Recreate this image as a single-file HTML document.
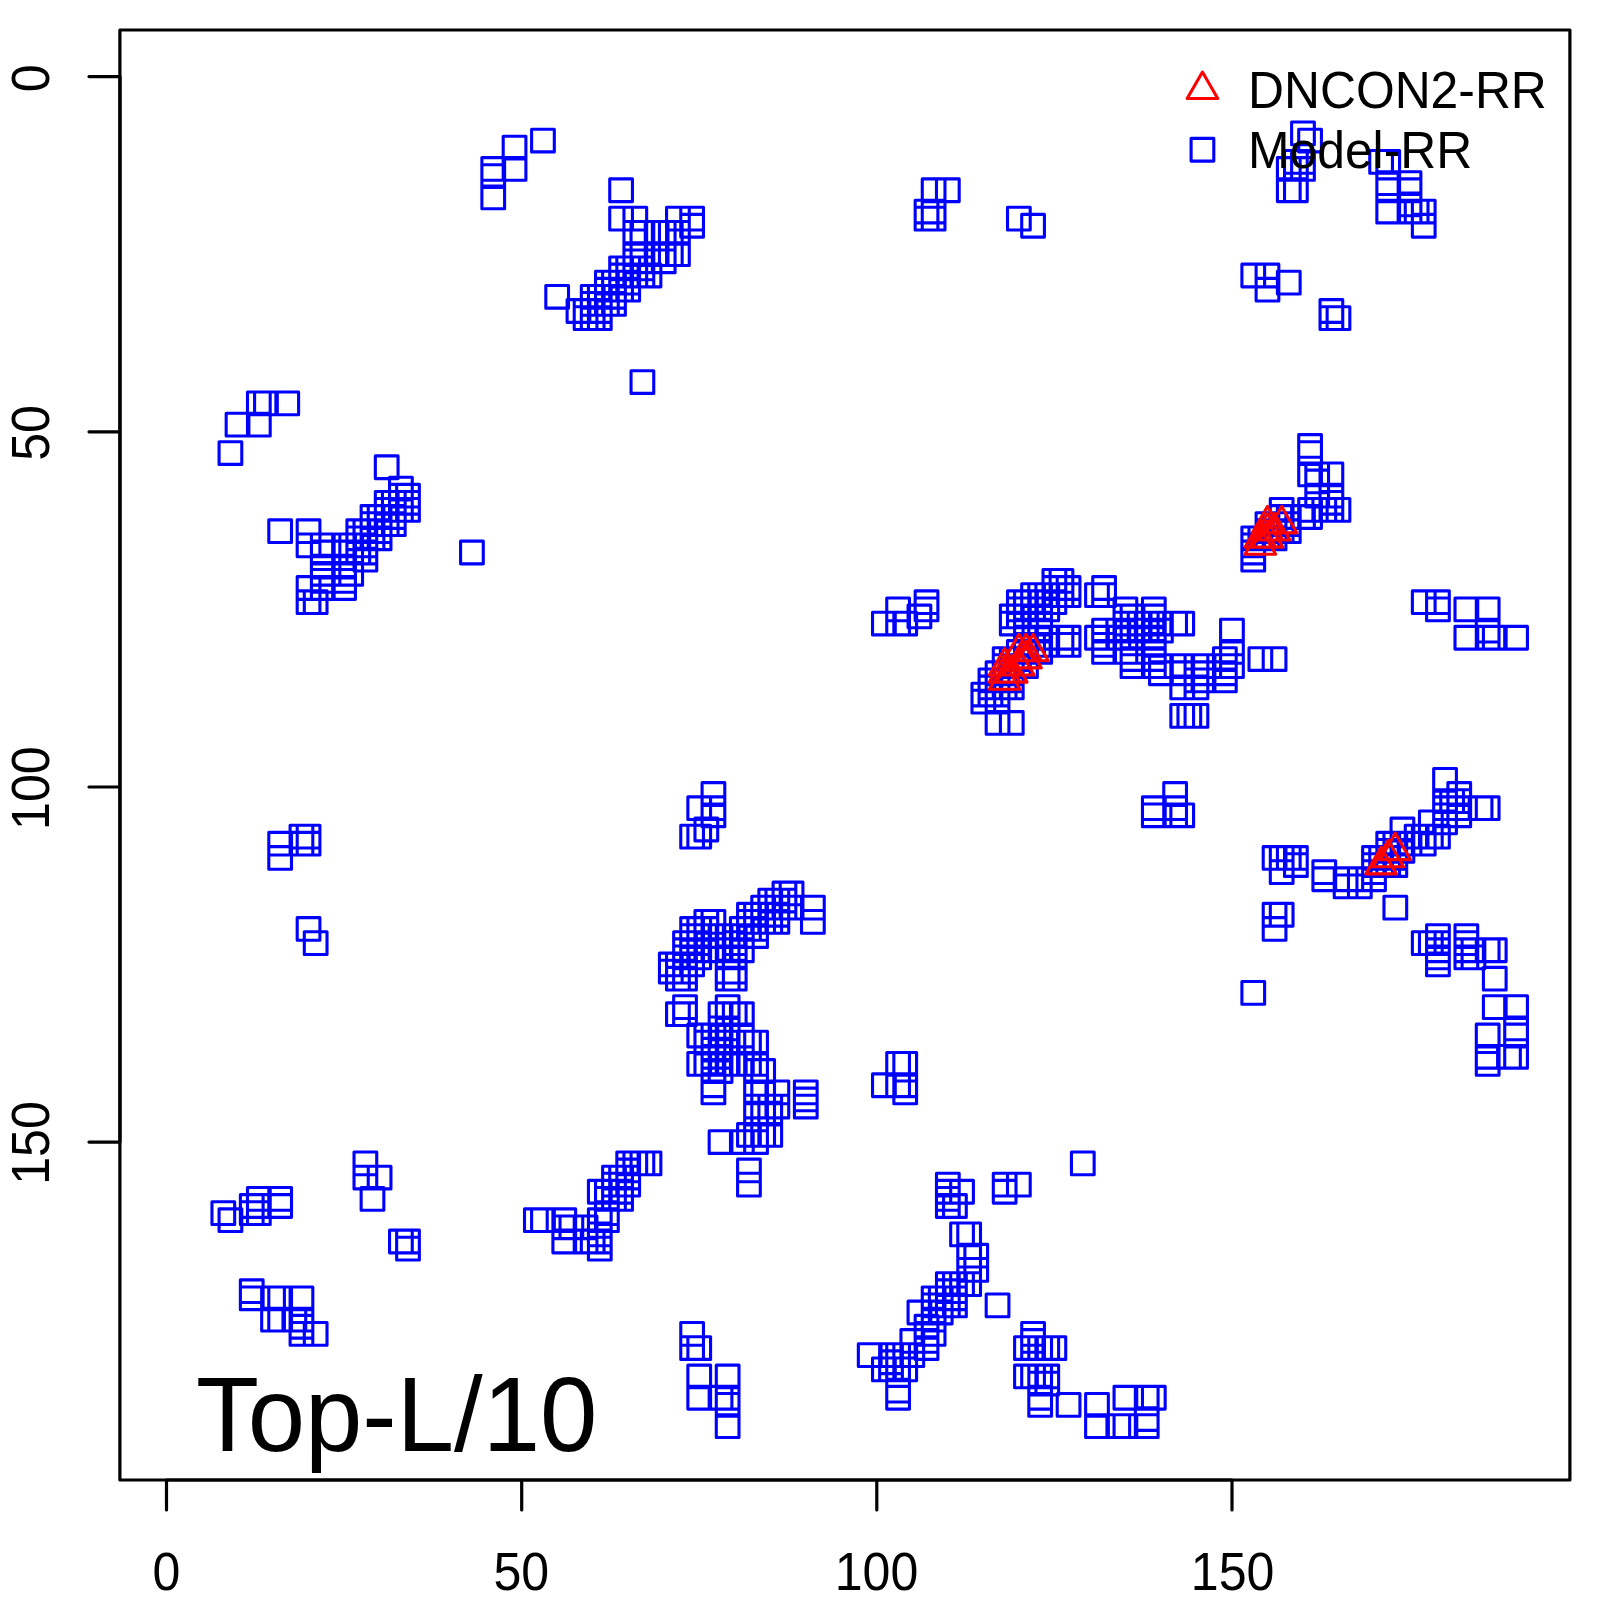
<!DOCTYPE html>
<html><head><meta charset="utf-8"><style>
html,body{margin:0;padding:0;background:#fff;}
body{width:1600px;height:1600px;overflow:hidden;position:relative;}
svg{position:absolute;left:0;top:0;}
text{font-family:"Liberation Sans",sans-serif;}
</style></head><body>
<svg width="1600" height="1600" viewBox="0 0 1600 1600" xmlns="http://www.w3.org/2000/svg">
<rect x="0" y="0" width="1600" height="1600" fill="#fff"/>
<path d="M211.97 1201.73h22.70v22.70h-22.70zM219.08 441.71h22.70v22.70h-22.70zM219.08 1208.83h22.70v22.70h-22.70zM226.18 413.30h22.70v22.70h-22.70zM240.39 1194.63h22.70v22.70h-22.70zM240.39 1201.73h22.70v22.70h-22.70zM240.39 1279.86h22.70v22.70h-22.70zM240.39 1286.97h22.70v22.70h-22.70zM247.49 391.99h22.70v22.70h-22.70zM247.49 413.30h22.70v22.70h-22.70zM247.49 1187.52h22.70v22.70h-22.70zM247.49 1194.63h22.70v22.70h-22.70zM247.49 1201.73h22.70v22.70h-22.70zM254.59 391.99h22.70v22.70h-22.70zM261.69 1286.97h22.70v22.70h-22.70zM261.69 1308.27h22.70v22.70h-22.70zM268.80 519.84h22.70v22.70h-22.70zM268.80 832.37h22.70v22.70h-22.70zM268.80 846.58h22.70v22.70h-22.70zM268.80 1187.52h22.70v22.70h-22.70zM268.80 1194.63h22.70v22.70h-22.70zM268.80 1286.97h22.70v22.70h-22.70zM268.80 1308.27h22.70v22.70h-22.70zM275.90 391.99h22.70v22.70h-22.70zM283.00 1308.27h22.70v22.70h-22.70zM290.11 825.27h22.70v22.70h-22.70zM290.11 832.37h22.70v22.70h-22.70zM290.11 1286.97h22.70v22.70h-22.70zM290.11 1308.27h22.70v22.70h-22.70zM290.11 1315.38h22.70v22.70h-22.70zM290.11 1322.48h22.70v22.70h-22.70zM297.21 519.84h22.70v22.70h-22.70zM297.21 534.05h22.70v22.70h-22.70zM297.21 576.67h22.70v22.70h-22.70zM297.21 590.87h22.70v22.70h-22.70zM297.21 825.27h22.70v22.70h-22.70zM297.21 832.37h22.70v22.70h-22.70zM297.21 917.61h22.70v22.70h-22.70zM304.31 590.87h22.70v22.70h-22.70zM304.31 931.82h22.70v22.70h-22.70zM304.31 1322.48h22.70v22.70h-22.70zM311.42 534.05h22.70v22.70h-22.70zM311.42 541.15h22.70v22.70h-22.70zM311.42 555.36h22.70v22.70h-22.70zM311.42 562.46h22.70v22.70h-22.70zM311.42 569.56h22.70v22.70h-22.70zM311.42 576.67h22.70v22.70h-22.70zM332.72 534.05h22.70v22.70h-22.70zM332.72 541.15h22.70v22.70h-22.70zM332.72 555.36h22.70v22.70h-22.70zM332.72 562.46h22.70v22.70h-22.70zM332.72 569.56h22.70v22.70h-22.70zM332.72 576.67h22.70v22.70h-22.70zM339.83 534.05h22.70v22.70h-22.70zM339.83 541.15h22.70v22.70h-22.70zM339.83 562.46h22.70v22.70h-22.70zM346.93 519.84h22.70v22.70h-22.70zM346.93 526.94h22.70v22.70h-22.70zM346.93 534.05h22.70v22.70h-22.70zM346.93 541.15h22.70v22.70h-22.70zM354.03 519.84h22.70v22.70h-22.70zM354.03 526.94h22.70v22.70h-22.70zM354.03 534.05h22.70v22.70h-22.70zM354.03 541.15h22.70v22.70h-22.70zM354.03 548.25h22.70v22.70h-22.70zM354.03 1152.01h22.70v22.70h-22.70zM354.03 1166.21h22.70v22.70h-22.70zM361.14 505.64h22.70v22.70h-22.70zM361.14 512.74h22.70v22.70h-22.70zM361.14 519.84h22.70v22.70h-22.70zM361.14 526.94h22.70v22.70h-22.70zM361.14 1187.52h22.70v22.70h-22.70zM368.24 505.64h22.70v22.70h-22.70zM368.24 512.74h22.70v22.70h-22.70zM368.24 519.84h22.70v22.70h-22.70zM368.24 526.94h22.70v22.70h-22.70zM368.24 1166.21h22.70v22.70h-22.70zM375.34 455.91h22.70v22.70h-22.70zM375.34 491.43h22.70v22.70h-22.70zM375.34 498.53h22.70v22.70h-22.70zM375.34 505.64h22.70v22.70h-22.70zM375.34 512.74h22.70v22.70h-22.70zM382.45 491.43h22.70v22.70h-22.70zM382.45 498.53h22.70v22.70h-22.70zM382.45 505.64h22.70v22.70h-22.70zM382.45 512.74h22.70v22.70h-22.70zM389.55 477.22h22.70v22.70h-22.70zM389.55 484.33h22.70v22.70h-22.70zM389.55 491.43h22.70v22.70h-22.70zM389.55 498.53h22.70v22.70h-22.70zM389.55 1230.14h22.70v22.70h-22.70zM396.65 484.33h22.70v22.70h-22.70zM396.65 491.43h22.70v22.70h-22.70zM396.65 498.53h22.70v22.70h-22.70zM396.65 1230.14h22.70v22.70h-22.70zM396.65 1237.24h22.70v22.70h-22.70zM460.58 541.15h22.70v22.70h-22.70zM481.89 157.59h22.70v22.70h-22.70zM481.89 164.69h22.70v22.70h-22.70zM481.89 186.00h22.70v22.70h-22.70zM503.20 136.28h22.70v22.70h-22.70zM503.20 157.59h22.70v22.70h-22.70zM524.51 1208.83h22.70v22.70h-22.70zM531.61 129.18h22.70v22.70h-22.70zM531.61 1208.83h22.70v22.70h-22.70zM545.81 285.44h22.70v22.70h-22.70zM552.92 1208.83h22.70v22.70h-22.70zM552.92 1215.94h22.70v22.70h-22.70zM552.92 1230.14h22.70v22.70h-22.70zM560.02 1215.94h22.70v22.70h-22.70zM567.12 299.65h22.70v22.70h-22.70zM574.23 299.65h22.70v22.70h-22.70zM574.23 306.75h22.70v22.70h-22.70zM574.23 1215.94h22.70v22.70h-22.70zM574.23 1230.14h22.70v22.70h-22.70zM581.33 285.44h22.70v22.70h-22.70zM581.33 292.55h22.70v22.70h-22.70zM581.33 299.65h22.70v22.70h-22.70zM581.33 306.75h22.70v22.70h-22.70zM581.33 1230.14h22.70v22.70h-22.70zM588.43 285.44h22.70v22.70h-22.70zM588.43 292.55h22.70v22.70h-22.70zM588.43 299.65h22.70v22.70h-22.70zM588.43 306.75h22.70v22.70h-22.70zM588.43 1180.42h22.70v22.70h-22.70zM588.43 1208.83h22.70v22.70h-22.70zM588.43 1223.04h22.70v22.70h-22.70zM588.43 1230.14h22.70v22.70h-22.70zM588.43 1237.24h22.70v22.70h-22.70zM595.54 271.24h22.70v22.70h-22.70zM595.54 278.34h22.70v22.70h-22.70zM595.54 285.44h22.70v22.70h-22.70zM595.54 292.55h22.70v22.70h-22.70zM595.54 1180.42h22.70v22.70h-22.70zM595.54 1187.52h22.70v22.70h-22.70zM595.54 1201.73h22.70v22.70h-22.70zM595.54 1208.83h22.70v22.70h-22.70zM602.64 271.24h22.70v22.70h-22.70zM602.64 278.34h22.70v22.70h-22.70zM602.64 285.44h22.70v22.70h-22.70zM602.64 292.55h22.70v22.70h-22.70zM602.64 1166.21h22.70v22.70h-22.70zM602.64 1173.32h22.70v22.70h-22.70zM602.64 1180.42h22.70v22.70h-22.70zM602.64 1187.52h22.70v22.70h-22.70zM609.74 178.90h22.70v22.70h-22.70zM609.74 207.31h22.70v22.70h-22.70zM609.74 257.03h22.70v22.70h-22.70zM609.74 264.13h22.70v22.70h-22.70zM609.74 271.24h22.70v22.70h-22.70zM609.74 278.34h22.70v22.70h-22.70zM609.74 1166.21h22.70v22.70h-22.70zM609.74 1173.32h22.70v22.70h-22.70zM609.74 1180.42h22.70v22.70h-22.70zM609.74 1187.52h22.70v22.70h-22.70zM616.84 257.03h22.70v22.70h-22.70zM616.84 264.13h22.70v22.70h-22.70zM616.84 271.24h22.70v22.70h-22.70zM616.84 278.34h22.70v22.70h-22.70zM616.84 1152.01h22.70v22.70h-22.70zM616.84 1159.11h22.70v22.70h-22.70zM616.84 1166.21h22.70v22.70h-22.70zM616.84 1173.32h22.70v22.70h-22.70zM623.95 207.31h22.70v22.70h-22.70zM623.95 221.52h22.70v22.70h-22.70zM623.95 242.82h22.70v22.70h-22.70zM623.95 249.93h22.70v22.70h-22.70zM623.95 257.03h22.70v22.70h-22.70zM623.95 264.13h22.70v22.70h-22.70zM623.95 1152.01h22.70v22.70h-22.70zM631.05 221.52h22.70v22.70h-22.70zM631.05 242.82h22.70v22.70h-22.70zM631.05 249.93h22.70v22.70h-22.70zM631.05 257.03h22.70v22.70h-22.70zM631.05 264.13h22.70v22.70h-22.70zM631.05 370.68h22.70v22.70h-22.70zM631.05 1152.01h22.70v22.70h-22.70zM638.15 264.13h22.70v22.70h-22.70zM638.15 1152.01h22.70v22.70h-22.70zM645.26 221.52h22.70v22.70h-22.70zM645.26 242.82h22.70v22.70h-22.70zM652.36 221.52h22.70v22.70h-22.70zM652.36 242.82h22.70v22.70h-22.70zM652.36 249.93h22.70v22.70h-22.70zM659.46 221.52h22.70v22.70h-22.70zM659.46 242.82h22.70v22.70h-22.70zM659.46 953.12h22.70v22.70h-22.70zM659.46 960.23h22.70v22.70h-22.70zM666.57 207.31h22.70v22.70h-22.70zM666.57 221.52h22.70v22.70h-22.70zM666.57 242.82h22.70v22.70h-22.70zM666.57 953.12h22.70v22.70h-22.70zM666.57 960.23h22.70v22.70h-22.70zM666.57 967.33h22.70v22.70h-22.70zM666.57 1002.85h22.70v22.70h-22.70zM673.67 931.82h22.70v22.70h-22.70zM673.67 938.92h22.70v22.70h-22.70zM673.67 946.02h22.70v22.70h-22.70zM673.67 953.12h22.70v22.70h-22.70zM673.67 960.23h22.70v22.70h-22.70zM673.67 967.33h22.70v22.70h-22.70zM673.67 995.74h22.70v22.70h-22.70zM673.67 1002.85h22.70v22.70h-22.70zM680.77 207.31h22.70v22.70h-22.70zM680.77 214.41h22.70v22.70h-22.70zM680.77 825.27h22.70v22.70h-22.70zM680.77 917.61h22.70v22.70h-22.70zM680.77 924.71h22.70v22.70h-22.70zM680.77 931.82h22.70v22.70h-22.70zM680.77 938.92h22.70v22.70h-22.70zM680.77 946.02h22.70v22.70h-22.70zM680.77 953.12h22.70v22.70h-22.70zM680.77 1322.48h22.70v22.70h-22.70zM680.77 1336.69h22.70v22.70h-22.70zM687.88 796.86h22.70v22.70h-22.70zM687.88 825.27h22.70v22.70h-22.70zM687.88 917.61h22.70v22.70h-22.70zM687.88 924.71h22.70v22.70h-22.70zM687.88 931.82h22.70v22.70h-22.70zM687.88 938.92h22.70v22.70h-22.70zM687.88 946.02h22.70v22.70h-22.70zM687.88 1024.15h22.70v22.70h-22.70zM687.88 1052.57h22.70v22.70h-22.70zM687.88 1336.69h22.70v22.70h-22.70zM687.88 1365.10h22.70v22.70h-22.70zM687.88 1386.41h22.70v22.70h-22.70zM694.98 818.17h22.70v22.70h-22.70zM694.98 910.51h22.70v22.70h-22.70zM694.98 917.61h22.70v22.70h-22.70zM694.98 924.71h22.70v22.70h-22.70zM694.98 938.92h22.70v22.70h-22.70zM694.98 1024.15h22.70v22.70h-22.70zM694.98 1031.26h22.70v22.70h-22.70zM694.98 1052.57h22.70v22.70h-22.70zM702.08 782.65h22.70v22.70h-22.70zM702.08 796.86h22.70v22.70h-22.70zM702.08 803.96h22.70v22.70h-22.70zM702.08 910.51h22.70v22.70h-22.70zM702.08 924.71h22.70v22.70h-22.70zM702.08 938.92h22.70v22.70h-22.70zM702.08 1024.15h22.70v22.70h-22.70zM702.08 1031.26h22.70v22.70h-22.70zM702.08 1038.36h22.70v22.70h-22.70zM702.08 1045.46h22.70v22.70h-22.70zM702.08 1052.57h22.70v22.70h-22.70zM702.08 1059.67h22.70v22.70h-22.70zM702.08 1073.88h22.70v22.70h-22.70zM702.08 1080.98h22.70v22.70h-22.70zM709.18 924.71h22.70v22.70h-22.70zM709.18 938.92h22.70v22.70h-22.70zM709.18 1002.85h22.70v22.70h-22.70zM709.18 1017.05h22.70v22.70h-22.70zM709.18 1024.15h22.70v22.70h-22.70zM709.18 1031.26h22.70v22.70h-22.70zM709.18 1038.36h22.70v22.70h-22.70zM709.18 1045.46h22.70v22.70h-22.70zM709.18 1052.57h22.70v22.70h-22.70zM709.18 1059.67h22.70v22.70h-22.70zM709.18 1130.70h22.70v22.70h-22.70zM709.18 1386.41h22.70v22.70h-22.70zM716.29 924.71h22.70v22.70h-22.70zM716.29 938.92h22.70v22.70h-22.70zM716.29 946.02h22.70v22.70h-22.70zM716.29 960.23h22.70v22.70h-22.70zM716.29 967.33h22.70v22.70h-22.70zM716.29 995.74h22.70v22.70h-22.70zM716.29 1002.85h22.70v22.70h-22.70zM716.29 1017.05h22.70v22.70h-22.70zM716.29 1024.15h22.70v22.70h-22.70zM716.29 1031.26h22.70v22.70h-22.70zM716.29 1052.57h22.70v22.70h-22.70zM716.29 1365.10h22.70v22.70h-22.70zM716.29 1386.41h22.70v22.70h-22.70zM716.29 1393.51h22.70v22.70h-22.70zM716.29 1414.82h22.70v22.70h-22.70zM723.39 924.71h22.70v22.70h-22.70zM723.39 931.82h22.70v22.70h-22.70zM723.39 938.92h22.70v22.70h-22.70zM723.39 946.02h22.70v22.70h-22.70zM723.39 960.23h22.70v22.70h-22.70zM723.39 967.33h22.70v22.70h-22.70zM723.39 1002.85h22.70v22.70h-22.70zM723.39 1052.57h22.70v22.70h-22.70zM730.49 917.61h22.70v22.70h-22.70zM730.49 924.71h22.70v22.70h-22.70zM730.49 938.92h22.70v22.70h-22.70zM730.49 1002.85h22.70v22.70h-22.70zM730.49 1024.15h22.70v22.70h-22.70zM730.49 1031.26h22.70v22.70h-22.70zM730.49 1052.57h22.70v22.70h-22.70zM730.49 1130.70h22.70v22.70h-22.70zM737.60 903.40h22.70v22.70h-22.70zM737.60 910.51h22.70v22.70h-22.70zM737.60 917.61h22.70v22.70h-22.70zM737.60 1031.26h22.70v22.70h-22.70zM737.60 1052.57h22.70v22.70h-22.70zM737.60 1123.60h22.70v22.70h-22.70zM737.60 1159.11h22.70v22.70h-22.70zM737.60 1173.32h22.70v22.70h-22.70zM744.70 903.40h22.70v22.70h-22.70zM744.70 910.51h22.70v22.70h-22.70zM744.70 917.61h22.70v22.70h-22.70zM744.70 924.71h22.70v22.70h-22.70zM744.70 1031.26h22.70v22.70h-22.70zM744.70 1052.57h22.70v22.70h-22.70zM744.70 1059.67h22.70v22.70h-22.70zM744.70 1080.98h22.70v22.70h-22.70zM744.70 1095.18h22.70v22.70h-22.70zM744.70 1102.29h22.70v22.70h-22.70zM744.70 1123.60h22.70v22.70h-22.70zM744.70 1130.70h22.70v22.70h-22.70zM751.80 896.30h22.70v22.70h-22.70zM751.80 903.40h22.70v22.70h-22.70zM751.80 910.51h22.70v22.70h-22.70zM751.80 1059.67h22.70v22.70h-22.70zM751.80 1080.98h22.70v22.70h-22.70zM751.80 1095.18h22.70v22.70h-22.70zM751.80 1102.29h22.70v22.70h-22.70zM751.80 1123.60h22.70v22.70h-22.70zM758.90 889.20h22.70v22.70h-22.70zM758.90 896.30h22.70v22.70h-22.70zM758.90 903.40h22.70v22.70h-22.70zM758.90 910.51h22.70v22.70h-22.70zM758.90 1095.18h22.70v22.70h-22.70zM758.90 1102.29h22.70v22.70h-22.70zM758.90 1123.60h22.70v22.70h-22.70zM766.01 889.20h22.70v22.70h-22.70zM766.01 896.30h22.70v22.70h-22.70zM766.01 903.40h22.70v22.70h-22.70zM766.01 910.51h22.70v22.70h-22.70zM766.01 1080.98h22.70v22.70h-22.70zM766.01 1095.18h22.70v22.70h-22.70zM773.11 882.10h22.70v22.70h-22.70zM773.11 889.20h22.70v22.70h-22.70zM773.11 896.30h22.70v22.70h-22.70zM780.21 882.10h22.70v22.70h-22.70zM780.21 896.30h22.70v22.70h-22.70zM794.42 1080.98h22.70v22.70h-22.70zM794.42 1088.08h22.70v22.70h-22.70zM794.42 1095.18h22.70v22.70h-22.70zM801.52 896.30h22.70v22.70h-22.70zM801.52 910.51h22.70v22.70h-22.70zM858.35 1343.79h22.70v22.70h-22.70zM872.55 612.18h22.70v22.70h-22.70zM872.55 1073.88h22.70v22.70h-22.70zM872.55 1358.00h22.70v22.70h-22.70zM879.66 1343.79h22.70v22.70h-22.70zM879.66 1350.89h22.70v22.70h-22.70zM879.66 1358.00h22.70v22.70h-22.70zM886.76 597.98h22.70v22.70h-22.70zM886.76 612.18h22.70v22.70h-22.70zM886.76 1052.57h22.70v22.70h-22.70zM886.76 1073.88h22.70v22.70h-22.70zM886.76 1343.79h22.70v22.70h-22.70zM886.76 1358.00h22.70v22.70h-22.70zM886.76 1379.31h22.70v22.70h-22.70zM886.76 1386.41h22.70v22.70h-22.70zM893.86 612.18h22.70v22.70h-22.70zM893.86 1052.57h22.70v22.70h-22.70zM893.86 1073.88h22.70v22.70h-22.70zM893.86 1080.98h22.70v22.70h-22.70zM893.86 1343.79h22.70v22.70h-22.70zM893.86 1358.00h22.70v22.70h-22.70zM900.96 1329.58h22.70v22.70h-22.70zM900.96 1343.79h22.70v22.70h-22.70zM908.07 605.08h22.70v22.70h-22.70zM908.07 1301.17h22.70v22.70h-22.70zM915.17 200.21h22.70v22.70h-22.70zM915.17 207.31h22.70v22.70h-22.70zM915.17 590.87h22.70v22.70h-22.70zM915.17 597.98h22.70v22.70h-22.70zM915.17 1315.38h22.70v22.70h-22.70zM915.17 1322.48h22.70v22.70h-22.70zM915.17 1329.58h22.70v22.70h-22.70zM915.17 1336.69h22.70v22.70h-22.70zM922.27 178.90h22.70v22.70h-22.70zM922.27 200.21h22.70v22.70h-22.70zM922.27 207.31h22.70v22.70h-22.70zM922.27 1286.97h22.70v22.70h-22.70zM922.27 1294.07h22.70v22.70h-22.70zM922.27 1301.17h22.70v22.70h-22.70zM922.27 1308.27h22.70v22.70h-22.70zM922.27 1322.48h22.70v22.70h-22.70zM929.38 1286.97h22.70v22.70h-22.70zM929.38 1294.07h22.70v22.70h-22.70zM929.38 1301.17h22.70v22.70h-22.70zM936.48 178.90h22.70v22.70h-22.70zM936.48 1173.32h22.70v22.70h-22.70zM936.48 1180.42h22.70v22.70h-22.70zM936.48 1187.52h22.70v22.70h-22.70zM936.48 1194.63h22.70v22.70h-22.70zM936.48 1272.76h22.70v22.70h-22.70zM936.48 1279.86h22.70v22.70h-22.70zM936.48 1286.97h22.70v22.70h-22.70zM936.48 1294.07h22.70v22.70h-22.70zM943.58 1194.63h22.70v22.70h-22.70zM943.58 1272.76h22.70v22.70h-22.70zM943.58 1279.86h22.70v22.70h-22.70zM943.58 1286.97h22.70v22.70h-22.70zM943.58 1294.07h22.70v22.70h-22.70zM950.69 1180.42h22.70v22.70h-22.70zM950.69 1223.04h22.70v22.70h-22.70zM950.69 1272.76h22.70v22.70h-22.70zM957.79 1223.04h22.70v22.70h-22.70zM957.79 1244.35h22.70v22.70h-22.70zM957.79 1258.55h22.70v22.70h-22.70zM957.79 1272.76h22.70v22.70h-22.70zM964.89 1244.35h22.70v22.70h-22.70zM964.89 1258.55h22.70v22.70h-22.70zM972.00 683.21h22.70v22.70h-22.70zM972.00 690.31h22.70v22.70h-22.70zM979.10 669.00h22.70v22.70h-22.70zM979.10 676.11h22.70v22.70h-22.70zM979.10 683.21h22.70v22.70h-22.70zM986.20 661.90h22.70v22.70h-22.70zM986.20 669.00h22.70v22.70h-22.70zM986.20 676.11h22.70v22.70h-22.70zM986.20 683.21h22.70v22.70h-22.70zM986.20 690.31h22.70v22.70h-22.70zM986.20 711.62h22.70v22.70h-22.70zM986.20 1294.07h22.70v22.70h-22.70zM993.30 647.70h22.70v22.70h-22.70zM993.30 654.80h22.70v22.70h-22.70zM993.30 661.90h22.70v22.70h-22.70zM993.30 669.00h22.70v22.70h-22.70zM993.30 676.11h22.70v22.70h-22.70zM993.30 1173.32h22.70v22.70h-22.70zM993.30 1180.42h22.70v22.70h-22.70zM1000.41 605.08h22.70v22.70h-22.70zM1000.41 612.18h22.70v22.70h-22.70zM1000.41 647.70h22.70v22.70h-22.70zM1000.41 654.80h22.70v22.70h-22.70zM1000.41 661.90h22.70v22.70h-22.70zM1000.41 669.00h22.70v22.70h-22.70zM1000.41 676.11h22.70v22.70h-22.70zM1000.41 711.62h22.70v22.70h-22.70zM1007.51 207.31h22.70v22.70h-22.70zM1007.51 590.87h22.70v22.70h-22.70zM1007.51 597.98h22.70v22.70h-22.70zM1007.51 605.08h22.70v22.70h-22.70zM1007.51 640.59h22.70v22.70h-22.70zM1007.51 647.70h22.70v22.70h-22.70zM1007.51 654.80h22.70v22.70h-22.70zM1007.51 1173.32h22.70v22.70h-22.70zM1014.61 590.87h22.70v22.70h-22.70zM1014.61 597.98h22.70v22.70h-22.70zM1014.61 605.08h22.70v22.70h-22.70zM1014.61 612.18h22.70v22.70h-22.70zM1014.61 619.28h22.70v22.70h-22.70zM1014.61 626.39h22.70v22.70h-22.70zM1014.61 633.49h22.70v22.70h-22.70zM1014.61 640.59h22.70v22.70h-22.70zM1014.61 654.80h22.70v22.70h-22.70zM1014.61 1336.69h22.70v22.70h-22.70zM1014.61 1365.10h22.70v22.70h-22.70zM1021.72 214.41h22.70v22.70h-22.70zM1021.72 583.77h22.70v22.70h-22.70zM1021.72 590.87h22.70v22.70h-22.70zM1021.72 597.98h22.70v22.70h-22.70zM1021.72 633.49h22.70v22.70h-22.70zM1021.72 1322.48h22.70v22.70h-22.70zM1021.72 1329.58h22.70v22.70h-22.70zM1021.72 1336.69h22.70v22.70h-22.70zM1021.72 1365.10h22.70v22.70h-22.70zM1028.82 583.77h22.70v22.70h-22.70zM1028.82 590.87h22.70v22.70h-22.70zM1028.82 597.98h22.70v22.70h-22.70zM1028.82 605.08h22.70v22.70h-22.70zM1028.82 612.18h22.70v22.70h-22.70zM1028.82 619.28h22.70v22.70h-22.70zM1028.82 626.39h22.70v22.70h-22.70zM1028.82 633.49h22.70v22.70h-22.70zM1028.82 640.59h22.70v22.70h-22.70zM1028.82 1336.69h22.70v22.70h-22.70zM1028.82 1365.10h22.70v22.70h-22.70zM1028.82 1372.20h22.70v22.70h-22.70zM1028.82 1386.41h22.70v22.70h-22.70zM1028.82 1393.51h22.70v22.70h-22.70zM1035.92 583.77h22.70v22.70h-22.70zM1035.92 590.87h22.70v22.70h-22.70zM1035.92 597.98h22.70v22.70h-22.70zM1035.92 626.39h22.70v22.70h-22.70zM1035.92 633.49h22.70v22.70h-22.70zM1035.92 1336.69h22.70v22.70h-22.70zM1035.92 1365.10h22.70v22.70h-22.70zM1035.92 1372.20h22.70v22.70h-22.70zM1043.03 569.56h22.70v22.70h-22.70zM1043.03 576.67h22.70v22.70h-22.70zM1043.03 583.77h22.70v22.70h-22.70zM1043.03 590.87h22.70v22.70h-22.70zM1043.03 1336.69h22.70v22.70h-22.70zM1050.13 569.56h22.70v22.70h-22.70zM1050.13 576.67h22.70v22.70h-22.70zM1050.13 583.77h22.70v22.70h-22.70zM1050.13 626.39h22.70v22.70h-22.70zM1050.13 633.49h22.70v22.70h-22.70zM1057.23 576.67h22.70v22.70h-22.70zM1057.23 583.77h22.70v22.70h-22.70zM1057.23 626.39h22.70v22.70h-22.70zM1057.23 633.49h22.70v22.70h-22.70zM1057.23 1393.51h22.70v22.70h-22.70zM1071.44 1152.01h22.70v22.70h-22.70zM1085.64 583.77h22.70v22.70h-22.70zM1085.64 626.39h22.70v22.70h-22.70zM1085.64 1393.51h22.70v22.70h-22.70zM1085.64 1414.82h22.70v22.70h-22.70zM1092.75 576.67h22.70v22.70h-22.70zM1092.75 583.77h22.70v22.70h-22.70zM1092.75 619.28h22.70v22.70h-22.70zM1092.75 626.39h22.70v22.70h-22.70zM1092.75 633.49h22.70v22.70h-22.70zM1092.75 640.59h22.70v22.70h-22.70zM1106.95 619.28h22.70v22.70h-22.70zM1106.95 626.39h22.70v22.70h-22.70zM1106.95 1414.82h22.70v22.70h-22.70zM1114.06 597.98h22.70v22.70h-22.70zM1114.06 605.08h22.70v22.70h-22.70zM1114.06 612.18h22.70v22.70h-22.70zM1114.06 619.28h22.70v22.70h-22.70zM1114.06 626.39h22.70v22.70h-22.70zM1114.06 640.59h22.70v22.70h-22.70zM1114.06 1386.41h22.70v22.70h-22.70zM1114.06 1414.82h22.70v22.70h-22.70zM1121.16 605.08h22.70v22.70h-22.70zM1121.16 612.18h22.70v22.70h-22.70zM1121.16 619.28h22.70v22.70h-22.70zM1121.16 626.39h22.70v22.70h-22.70zM1121.16 640.59h22.70v22.70h-22.70zM1121.16 647.70h22.70v22.70h-22.70zM1121.16 654.80h22.70v22.70h-22.70zM1128.26 612.18h22.70v22.70h-22.70zM1128.26 619.28h22.70v22.70h-22.70zM1135.36 612.18h22.70v22.70h-22.70zM1135.36 619.28h22.70v22.70h-22.70zM1135.36 1386.41h22.70v22.70h-22.70zM1135.36 1407.72h22.70v22.70h-22.70zM1135.36 1414.82h22.70v22.70h-22.70zM1142.47 597.98h22.70v22.70h-22.70zM1142.47 605.08h22.70v22.70h-22.70zM1142.47 612.18h22.70v22.70h-22.70zM1142.47 619.28h22.70v22.70h-22.70zM1142.47 626.39h22.70v22.70h-22.70zM1142.47 633.49h22.70v22.70h-22.70zM1142.47 640.59h22.70v22.70h-22.70zM1142.47 647.70h22.70v22.70h-22.70zM1142.47 654.80h22.70v22.70h-22.70zM1142.47 796.86h22.70v22.70h-22.70zM1142.47 803.96h22.70v22.70h-22.70zM1142.47 1386.41h22.70v22.70h-22.70zM1149.57 612.18h22.70v22.70h-22.70zM1149.57 619.28h22.70v22.70h-22.70zM1149.57 654.80h22.70v22.70h-22.70zM1149.57 661.90h22.70v22.70h-22.70zM1163.78 612.18h22.70v22.70h-22.70zM1163.78 782.65h22.70v22.70h-22.70zM1163.78 796.86h22.70v22.70h-22.70zM1163.78 803.96h22.70v22.70h-22.70zM1170.88 612.18h22.70v22.70h-22.70zM1170.88 654.80h22.70v22.70h-22.70zM1170.88 661.90h22.70v22.70h-22.70zM1170.88 676.11h22.70v22.70h-22.70zM1170.88 704.52h22.70v22.70h-22.70zM1170.88 803.96h22.70v22.70h-22.70zM1177.98 704.52h22.70v22.70h-22.70zM1185.09 654.80h22.70v22.70h-22.70zM1185.09 661.90h22.70v22.70h-22.70zM1185.09 669.00h22.70v22.70h-22.70zM1185.09 676.11h22.70v22.70h-22.70zM1185.09 704.52h22.70v22.70h-22.70zM1192.19 654.80h22.70v22.70h-22.70zM1192.19 661.90h22.70v22.70h-22.70zM1192.19 669.00h22.70v22.70h-22.70zM1213.50 647.70h22.70v22.70h-22.70zM1213.50 654.80h22.70v22.70h-22.70zM1213.50 661.90h22.70v22.70h-22.70zM1213.50 669.00h22.70v22.70h-22.70zM1220.60 619.28h22.70v22.70h-22.70zM1220.60 640.59h22.70v22.70h-22.70zM1220.60 654.80h22.70v22.70h-22.70zM1241.91 264.13h22.70v22.70h-22.70zM1241.91 526.94h22.70v22.70h-22.70zM1241.91 534.05h22.70v22.70h-22.70zM1241.91 541.15h22.70v22.70h-22.70zM1241.91 548.25h22.70v22.70h-22.70zM1241.91 981.54h22.70v22.70h-22.70zM1249.01 526.94h22.70v22.70h-22.70zM1249.01 647.70h22.70v22.70h-22.70zM1256.12 264.13h22.70v22.70h-22.70zM1256.12 278.34h22.70v22.70h-22.70zM1256.12 512.74h22.70v22.70h-22.70zM1256.12 519.84h22.70v22.70h-22.70zM1256.12 526.94h22.70v22.70h-22.70zM1263.22 512.74h22.70v22.70h-22.70zM1263.22 519.84h22.70v22.70h-22.70zM1263.22 526.94h22.70v22.70h-22.70zM1263.22 647.70h22.70v22.70h-22.70zM1263.22 846.58h22.70v22.70h-22.70zM1263.22 903.40h22.70v22.70h-22.70zM1263.22 917.61h22.70v22.70h-22.70zM1270.32 498.53h22.70v22.70h-22.70zM1270.32 505.64h22.70v22.70h-22.70zM1270.32 512.74h22.70v22.70h-22.70zM1270.32 519.84h22.70v22.70h-22.70zM1270.32 846.58h22.70v22.70h-22.70zM1270.32 860.79h22.70v22.70h-22.70zM1270.32 903.40h22.70v22.70h-22.70zM1277.42 157.59h22.70v22.70h-22.70zM1277.42 178.90h22.70v22.70h-22.70zM1277.42 271.24h22.70v22.70h-22.70zM1277.42 505.64h22.70v22.70h-22.70zM1277.42 512.74h22.70v22.70h-22.70zM1277.42 519.84h22.70v22.70h-22.70zM1277.42 846.58h22.70v22.70h-22.70zM1284.53 150.49h22.70v22.70h-22.70zM1284.53 157.59h22.70v22.70h-22.70zM1284.53 178.90h22.70v22.70h-22.70zM1284.53 846.58h22.70v22.70h-22.70zM1284.53 853.68h22.70v22.70h-22.70zM1291.63 122.07h22.70v22.70h-22.70zM1291.63 150.49h22.70v22.70h-22.70zM1291.63 157.59h22.70v22.70h-22.70zM1291.63 505.64h22.70v22.70h-22.70zM1298.73 129.18h22.70v22.70h-22.70zM1298.73 434.61h22.70v22.70h-22.70zM1298.73 441.71h22.70v22.70h-22.70zM1298.73 463.02h22.70v22.70h-22.70zM1298.73 498.53h22.70v22.70h-22.70zM1298.73 505.64h22.70v22.70h-22.70zM1305.84 463.02h22.70v22.70h-22.70zM1305.84 470.12h22.70v22.70h-22.70zM1305.84 484.33h22.70v22.70h-22.70zM1312.94 498.53h22.70v22.70h-22.70zM1312.94 860.79h22.70v22.70h-22.70zM1312.94 867.89h22.70v22.70h-22.70zM1320.04 299.65h22.70v22.70h-22.70zM1320.04 306.75h22.70v22.70h-22.70zM1320.04 463.02h22.70v22.70h-22.70zM1320.04 484.33h22.70v22.70h-22.70zM1320.04 491.43h22.70v22.70h-22.70zM1320.04 498.53h22.70v22.70h-22.70zM1327.14 306.75h22.70v22.70h-22.70zM1327.14 498.53h22.70v22.70h-22.70zM1334.25 867.89h22.70v22.70h-22.70zM1334.25 874.99h22.70v22.70h-22.70zM1348.45 867.89h22.70v22.70h-22.70zM1348.45 874.99h22.70v22.70h-22.70zM1362.66 846.58h22.70v22.70h-22.70zM1362.66 853.68h22.70v22.70h-22.70zM1362.66 860.79h22.70v22.70h-22.70zM1362.66 867.89h22.70v22.70h-22.70zM1369.76 150.49h22.70v22.70h-22.70zM1369.76 846.58h22.70v22.70h-22.70zM1369.76 853.68h22.70v22.70h-22.70zM1376.87 150.49h22.70v22.70h-22.70zM1376.87 171.79h22.70v22.70h-22.70zM1376.87 178.90h22.70v22.70h-22.70zM1376.87 200.21h22.70v22.70h-22.70zM1376.87 832.37h22.70v22.70h-22.70zM1376.87 839.48h22.70v22.70h-22.70zM1376.87 846.58h22.70v22.70h-22.70zM1376.87 853.68h22.70v22.70h-22.70zM1383.97 832.37h22.70v22.70h-22.70zM1383.97 839.48h22.70v22.70h-22.70zM1383.97 846.58h22.70v22.70h-22.70zM1383.97 853.68h22.70v22.70h-22.70zM1383.97 896.30h22.70v22.70h-22.70zM1391.07 818.17h22.70v22.70h-22.70zM1391.07 832.37h22.70v22.70h-22.70zM1391.07 839.48h22.70v22.70h-22.70zM1398.17 171.79h22.70v22.70h-22.70zM1398.17 178.90h22.70v22.70h-22.70zM1398.17 193.10h22.70v22.70h-22.70zM1398.17 200.21h22.70v22.70h-22.70zM1398.17 832.37h22.70v22.70h-22.70zM1405.28 200.21h22.70v22.70h-22.70zM1405.28 825.27h22.70v22.70h-22.70zM1412.38 200.21h22.70v22.70h-22.70zM1412.38 214.41h22.70v22.70h-22.70zM1412.38 590.87h22.70v22.70h-22.70zM1412.38 825.27h22.70v22.70h-22.70zM1412.38 832.37h22.70v22.70h-22.70zM1412.38 931.82h22.70v22.70h-22.70zM1419.48 811.06h22.70v22.70h-22.70zM1419.48 825.27h22.70v22.70h-22.70zM1419.48 931.82h22.70v22.70h-22.70zM1426.59 590.87h22.70v22.70h-22.70zM1426.59 597.98h22.70v22.70h-22.70zM1426.59 825.27h22.70v22.70h-22.70zM1426.59 924.71h22.70v22.70h-22.70zM1426.59 931.82h22.70v22.70h-22.70zM1426.59 938.92h22.70v22.70h-22.70zM1426.59 946.02h22.70v22.70h-22.70zM1426.59 953.12h22.70v22.70h-22.70zM1433.69 768.45h22.70v22.70h-22.70zM1433.69 789.76h22.70v22.70h-22.70zM1433.69 796.86h22.70v22.70h-22.70zM1433.69 803.96h22.70v22.70h-22.70zM1433.69 811.06h22.70v22.70h-22.70zM1440.79 789.76h22.70v22.70h-22.70zM1447.90 782.65h22.70v22.70h-22.70zM1447.90 789.76h22.70v22.70h-22.70zM1447.90 796.86h22.70v22.70h-22.70zM1447.90 803.96h22.70v22.70h-22.70zM1455.00 597.98h22.70v22.70h-22.70zM1455.00 626.39h22.70v22.70h-22.70zM1455.00 924.71h22.70v22.70h-22.70zM1455.00 931.82h22.70v22.70h-22.70zM1455.00 938.92h22.70v22.70h-22.70zM1455.00 946.02h22.70v22.70h-22.70zM1462.10 938.92h22.70v22.70h-22.70zM1462.10 946.02h22.70v22.70h-22.70zM1469.21 796.86h22.70v22.70h-22.70zM1476.31 597.98h22.70v22.70h-22.70zM1476.31 619.28h22.70v22.70h-22.70zM1476.31 626.39h22.70v22.70h-22.70zM1476.31 796.86h22.70v22.70h-22.70zM1476.31 938.92h22.70v22.70h-22.70zM1476.31 1024.15h22.70v22.70h-22.70zM1476.31 1045.46h22.70v22.70h-22.70zM1476.31 1052.57h22.70v22.70h-22.70zM1483.41 626.39h22.70v22.70h-22.70zM1483.41 938.92h22.70v22.70h-22.70zM1483.41 967.33h22.70v22.70h-22.70zM1483.41 995.74h22.70v22.70h-22.70zM1497.62 1045.46h22.70v22.70h-22.70zM1504.72 626.39h22.70v22.70h-22.70zM1504.72 995.74h22.70v22.70h-22.70zM1504.72 1017.05h22.70v22.70h-22.70zM1504.72 1024.15h22.70v22.70h-22.70zM1504.72 1045.46h22.70v22.70h-22.70z" fill="none" stroke="#0000ff" stroke-width="3.1" stroke-linejoin="round"/>
<path d="M1267.46 506.44L1282.75 532.91L1252.18 532.91zM1281.67 506.44L1296.96 532.91L1266.39 532.91zM1267.46 513.54L1282.75 540.02L1252.18 540.02zM1274.57 513.54L1289.85 540.02L1259.28 540.02zM1267.46 520.64L1282.75 547.12L1252.18 547.12zM1260.36 520.64L1275.65 547.12L1245.08 547.12zM1260.36 527.75L1275.65 554.22L1245.08 554.22zM1018.86 634.29L1034.15 660.77L1003.57 660.77zM1025.96 634.29L1041.25 660.77L1010.68 660.77zM1033.07 634.29L1048.35 660.77L1017.78 660.77zM1025.96 641.40L1041.25 667.87L1010.68 667.87zM1004.65 648.50L1019.94 674.97L989.37 674.97zM1018.86 648.50L1034.15 674.97L1003.57 674.97zM1004.65 655.60L1019.94 682.08L989.37 682.08zM1011.76 655.60L1027.04 682.08L996.47 682.08zM1004.65 662.71L1019.94 689.18L989.37 689.18zM1381.11 847.38L1396.40 873.86L1365.83 873.86zM1388.22 840.28L1403.50 866.75L1372.93 866.75zM1395.32 833.18L1410.60 859.65L1380.03 859.65z" fill="none" stroke="#ff0000" stroke-width="3.1" stroke-linejoin="round"/>
<g stroke="#000" stroke-width="3.2" stroke-linecap="round" fill="none">
<rect x="119.9" y="30" width="1450" height="1450" stroke-linejoin="round"/>
<path d="M166.5 1480H1232M166.5 1480v30M521.7 1480v30M876.8 1480v30M1232 1480v30"/>
<path d="M120 76.6V1142.1M120 76.6h-31M120 431.8h-31M120 787h-31M120 1142.1h-31"/>
</g>
<g fill="#000" text-anchor="middle" font-size="53">
<text transform="translate(166.5,1589.5) scale(0.945,1)">0</text>
<text transform="translate(521.3,1589.5) scale(0.945,1)">50</text>
<text transform="translate(876.5,1589.5) scale(0.945,1)">100</text>
<text transform="translate(1232.6,1589.5) scale(0.945,1)">150</text>
<text transform="translate(49.0,78.4) rotate(-90) scale(0.945,1)">0</text>
<text transform="translate(49.0,433.0) rotate(-90) scale(0.945,1)">50</text>
<text transform="translate(49.0,788.2) rotate(-90) scale(0.945,1)">100</text>
<text transform="translate(49.0,1143.0) rotate(-90) scale(0.945,1)">150</text>
</g>
<g fill="#000" font-size="52">
<text transform="translate(1248.0,107.6) scale(0.958,1)">DNCON2-RR</text>
<text transform="translate(1248.0,167.6) scale(0.958,1)">Model-RR</text>
</g>
<path d="M1202.45 72.07L1217.74 98.55H1187.16Z" fill="none" stroke="#ff0000" stroke-width="3.1" stroke-linejoin="round"/>
<rect x="1191.1" y="138.4" width="22.7" height="22.7" fill="none" stroke="#0000ff" stroke-width="3.1" stroke-linejoin="round"/>
<text transform="translate(196.1,1450.8) scale(0.973,1)" font-size="106" fill="#000">Top-L/10</text>
</svg>
</body></html>
